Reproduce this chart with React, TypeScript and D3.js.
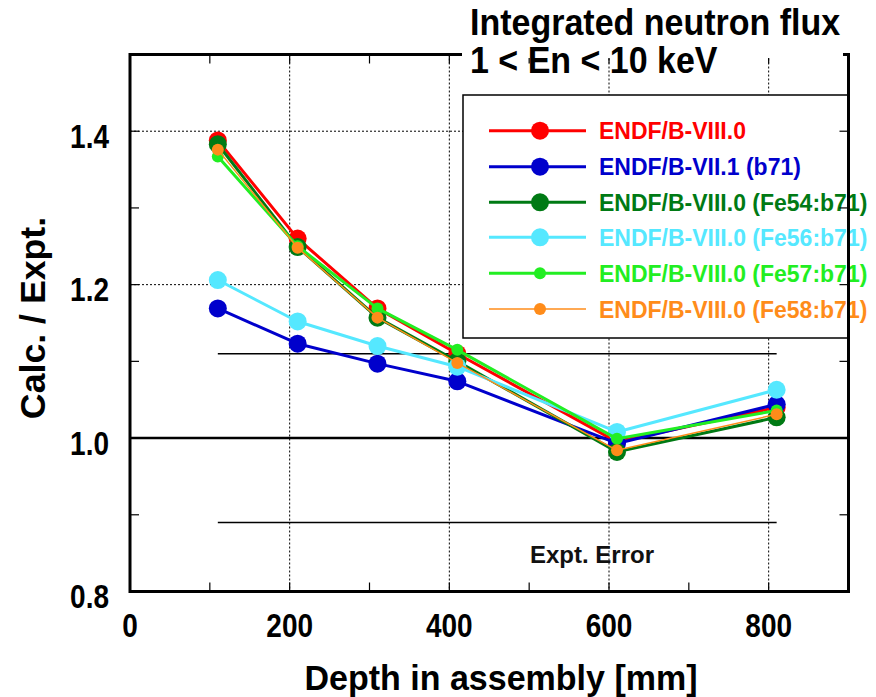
import React from "react";
import * as d3 from "d3";

const depths = [110, 210, 310, 410, 610, 810];
const seriesNames = [
  "ENDF/B-VIII.0",
  "ENDF/B-VII.1 (b71)",
  "ENDF/B-VIII.0 (Fe54:b71)",
  "ENDF/B-VIII.0 (Fe56:b71)",
  "ENDF/B-VIII.0 (Fe57:b71)",
  "ENDF/B-VIII.0 (Fe58:b71)",
];
const endf80 = [1.388, 1.26, 1.169, 1.11, 0.995, 1.04];
const endf71 = [1.169, 1.123, 1.097, 1.074, 0.993, 1.044];
const fe54 = [1.383, 1.249, 1.157, 1.1, 0.982, 1.027];
const fe56 = [1.206, 1.152, 1.12, 1.093, 1.008, 1.063];
const fe57 = [1.367, 1.25, 1.169, 1.115, 0.999, 1.036];
const fe58 = [1.376, 1.248, 1.157, 1.098, 0.984, 1.031];
const seriesValues = [endf80, endf71, fe54, fe56, fe57, fe58];
const seriesColors = ["#ff0000", "#0000cc", "#007a14", "#55e8ff", "#22ee22", "#ff8c1a"];
const seriesLineWidths = [3, 3, 3, 3, 3, 1.5];
const seriesMarkerR = [9, 9, 9, 9, 6, 6];

const xTickLabels = [0, 200, 400, 600, 800];
const yTickLabels = [0.8, 1.0, 1.2, 1.4];
const exptError = 0.11;
const errorRange = [110, 810];

const FONT = "'Liberation Sans', Arial, Helvetica, sans-serif";

export default function App() {
  const W = 876;
  const H = 697;
  const x = d3.scaleLinear().domain([0, 900]).range([130, 848.5]);
  const y = d3.scaleLinear().domain([0.8, 1.5]).range([591.5, 54.5]);
  const [x0, x1] = x.range();
  const [y0, y1] = y.range();

  const line = d3
    .line<number>()
    .x((_, i) => x(depths[i]))
    .y((d) => y(d));

  const xMinor = d3.range(0, 901, 100);
  const yMinor = d3.range(0.8, 1.5001, 0.1);
  const tickLen = 9;

  const legendX = 463;
  const legendY = 95;
  const legendRows = [130.7, 166.7, 202.3, 237.3, 273.3, 309];

  return (
    <svg
      width={W}
      height={H}
      style={{ position: "absolute", left: 0, top: 0, display: "block", background: "#fff" }}
      fontFamily={FONT}
    >
      <rect x={0} y={0} width={W} height={H} fill="#fff" />
      {/* grid */}
      {[200, 400, 600, 800].map((v) => (
        <line key={"gx" + v} x1={x(v)} x2={x(v)} y1={y1} y2={y0} stroke="#000" strokeWidth={1} strokeDasharray="2,2" />
      ))}
      {[1.2, 1.4].map((v) => (
        <line key={"gy" + v} x1={x0} x2={x1} y1={y(v)} y2={y(v)} stroke="#000" strokeWidth={1} strokeDasharray="2,2" />
      ))}
      {/* expt error band lines */}
      {[1 + exptError, 1 - exptError].map((v) => (
        <line key={"e" + v} x1={x(errorRange[0])} x2={x(errorRange[1])} y1={y(v)} y2={y(v)} stroke="#000" strokeWidth={1.5} />
      ))}
      <text x={530} y={563} fontSize={24} fontWeight="bold" fill="#111">
        Expt. Error
      </text>
      {/* unity line */}
      <line x1={x0} x2={x1} y1={y(1)} y2={y(1)} stroke="#000" strokeWidth={2.5} />
      {/* series */}
      {seriesValues.map((vals, s) => (
        <g key={"s" + s}>
          <path d={line(vals) || ""} fill="none" stroke={seriesColors[s]} strokeWidth={seriesLineWidths[s]} strokeLinejoin="round" />
          {vals.map((v, i) => (
            <circle key={i} cx={x(depths[i])} cy={y(v)} r={seriesMarkerR[s]} fill={seriesColors[s]} />
          ))}
        </g>
      ))}
      {/* legend */}
      <rect x={legendX} y={legendY} width={x1 - legendX} height={243} fill="#fff" stroke="#000" strokeWidth={1.5} />
      {seriesNames.map((name, s) => (
        <g key={"l" + s}>
          <line x1={489} x2={586} y1={legendRows[s]} y2={legendRows[s]} stroke={seriesColors[s]} strokeWidth={seriesLineWidths[s]} />
          <circle cx={540} cy={legendRows[s]} r={seriesMarkerR[s]} fill={seriesColors[s]} />
          <text transform={`translate(599,${legendRows[s] + 8.5}) scale(1,1.05)`} fontSize={23} fontWeight="bold" fill={seriesColors[s]}>
            {name}
          </text>
        </g>
      ))}
      {/* ticks */}
      {xMinor.map((v) => (
        <g key={"tx" + v}>
          <line x1={x(v)} x2={x(v)} y1={y0} y2={y0 - tickLen} stroke="#000" strokeWidth={1.2} />
          <line x1={x(v)} x2={x(v)} y1={y1} y2={y1 + tickLen} stroke="#000" strokeWidth={1.2} />
        </g>
      ))}
      {yMinor.map((v) => (
        <g key={"ty" + v.toFixed(1)}>
          <line x1={x0} x2={x0 + tickLen} y1={y(v)} y2={y(v)} stroke="#000" strokeWidth={1.2} />
          <line x1={x1} x2={x1 - tickLen} y1={y(v)} y2={y(v)} stroke="#000" strokeWidth={1.2} />
        </g>
      ))}
      {/* frame */}
      <rect x={x0} y={y1} width={x1 - x0} height={y0 - y1} fill="none" stroke="#000" strokeWidth={3} />
      {/* title background and title */}
      <rect x={462} y={0} width={381} height={58} fill="#fff" />
      <text transform="translate(470,35) scale(1,1.08)" fontSize={34} fontWeight="bold" fill="#000">
        Integrated neutron flux
      </text>
      <text transform="translate(470,73) scale(1,1.08)" fontSize={34} fontWeight="bold" fill="#000">
        {"1 < En < 10 keV"}
      </text>
      {/* tick labels */}
      {xTickLabels.map((v) => (
        <text
          key={"xl" + v}
          transform={`translate(${x(v)},637) scale(1,1.2)`}
          fontSize={28}
          fontWeight="bold"
          textAnchor="middle"
          fill="#000"
        >
          {v}
        </text>
      ))}
      {yTickLabels.map((v) => (
        <text
          key={"yl" + v}
          transform={`translate(109,${y(v) + 16.5}) scale(1,1.2)`}
          fontSize={28}
          fontWeight="bold"
          textAnchor="end"
          fill="#000"
        >
          {v.toFixed(1)}
        </text>
      ))}
      {/* axis titles */}
      <text transform="translate(501,690) scale(1,1.05)" fontSize={34} fontWeight="bold" textAnchor="middle" fill="#000">
        Depth in assembly [mm]
      </text>
      <text transform="translate(45,318) rotate(-90) scale(1.05,1.05)" fontSize={34} fontWeight="bold" textAnchor="middle" fill="#000">
        Calc. / Expt.
      </text>
    </svg>
  );
}
